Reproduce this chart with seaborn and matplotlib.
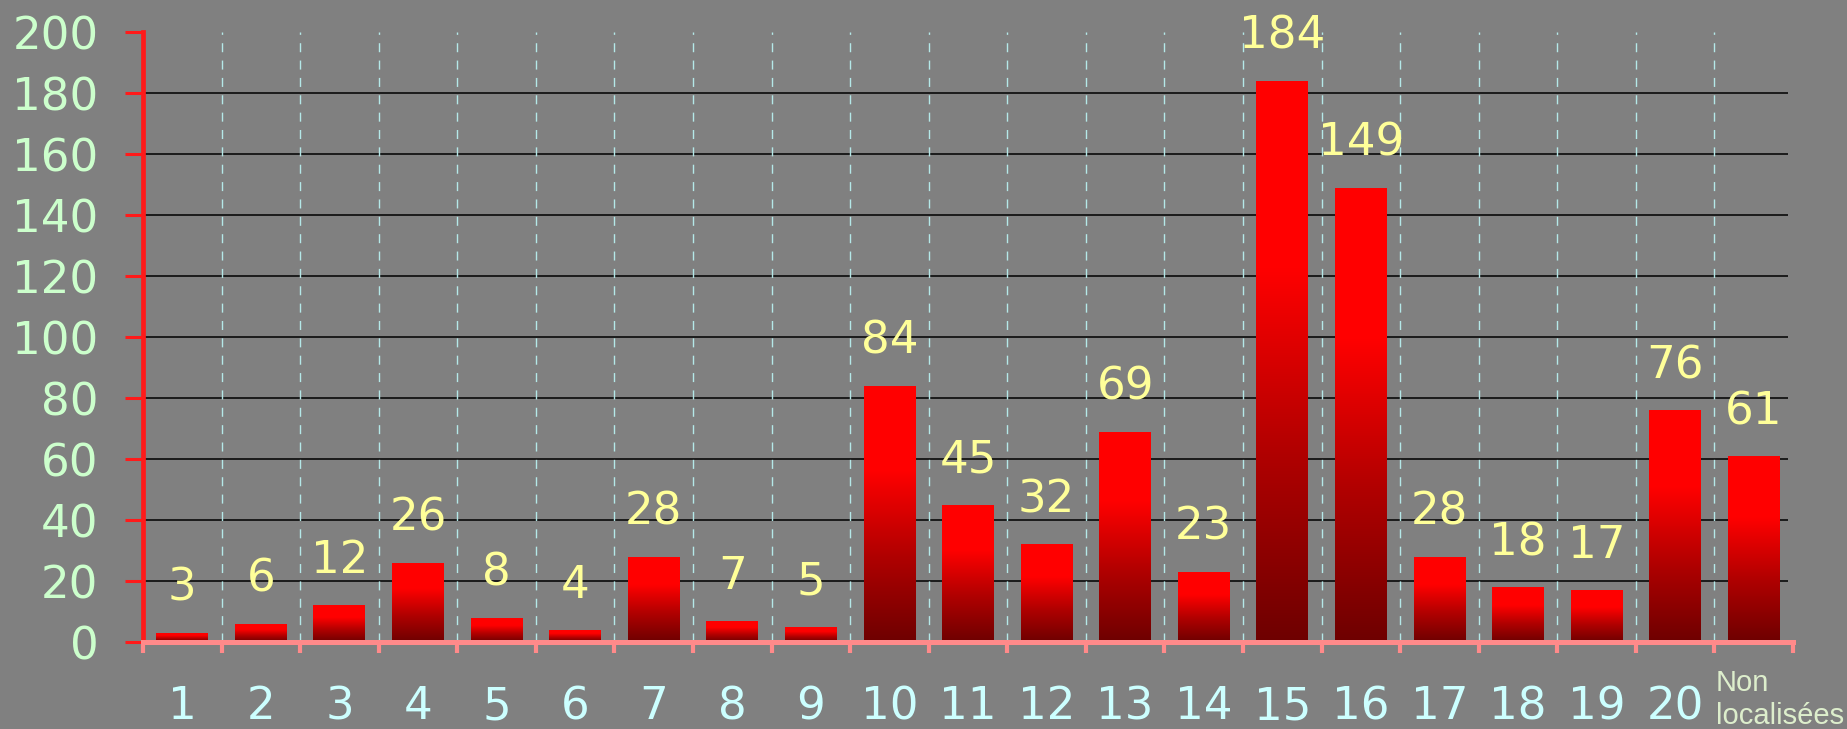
import numpy as np
import pandas as pd
import matplotlib
matplotlib.use("Agg")
import matplotlib.pyplot as plt
import seaborn as sns
from matplotlib.colors import LinearSegmentedColormap
import matplotlib.transforms as mtransforms

categories = [str(i) for i in range(1, 21)] + ["Non localisées"]
values = [3, 6, 12, 26, 8, 4, 28, 7, 5, 84, 45, 32, 69, 23, 184, 149, 28, 18, 17, 76, 61]
y_ticks = [0, 20, 40, 60, 80, 100, 120, 140, 160, 180, 200]

BG = "#808080"
sns.set_theme(rc={"axes.facecolor": BG, "figure.facecolor": BG, "axes.grid": False})
plt.rcParams["font.family"] = ["DejaVu Sans"]
NUMFONT = "DejaVu Sans"
NUMSIZE = 32.5

fig = plt.figure(figsize=(18.47, 7.29), dpi=100)
ax = fig.add_axes([0.0774, 0.1193, 0.9708 - 0.0774, 0.956 - 0.1193])

df = pd.DataFrame({"cat": categories, "val": values})
sns.barplot(data=df, x="cat", y="val", ax=ax, width=0.66, color="red",
            saturation=1, order=categories)

# gradient fill for each bar
cmap = LinearSegmentedColormap.from_list("redgrad", ["#6e0000", "#b00000", "#ff0000", "#ff0000"])
grad = np.linspace(0, 1, 256).reshape(-1, 1)
for p in ax.patches:
    x0, y0 = p.get_x(), p.get_y()
    w, h = p.get_width(), p.get_height()
    im = ax.imshow(grad, cmap=cmap, origin="lower", aspect="auto",
                   extent=[x0, x0 + w, y0, y0 + h], zorder=3, interpolation="bilinear")
    im.set_clip_path(p)
    p.set_facecolor("none")
    p.set_edgecolor("none")

ax.set_xlim(-0.5, len(categories) - 0.5)
ax.set_ylim(y_ticks[0], y_ticks[-1])

# horizontal gridlines (black)
ax.hlines(y_ticks[1:-1], -0.5, len(categories) - 0.57, colors="black", linewidth=1.1, zorder=1)
# dashed vertical separators
bounds = np.arange(0.5, len(categories) - 1, 1.0)
ax.vlines(bounds, y_ticks[0], y_ticks[-1], colors="#b4e8e8", linewidth=1.0,
          linestyles=(0, (6.5, 6)), zorder=1)

# value labels
for i, v in enumerate(values):
    ax.annotate(str(v), (i, v), xytext=(0, 23), textcoords="offset points",
                ha="center", va="baseline", fontsize=NUMSIZE, color="#ffff99",
                family=NUMFONT, zorder=5)

# spines
for s in ["top", "right"]:
    ax.spines[s].set_visible(False)
ax.spines["left"].set_color("#ff1a1a")
ax.spines["left"].set_linewidth(3.4)
ax.spines["bottom"].set_color("#ff8a8a")
ax.spines["bottom"].set_linewidth(3.6)
ax.spines["left"].set_zorder(6)
ax.spines["bottom"].set_zorder(6)

# y axis
ax.set_yticks(y_ticks)
ax.set_yticklabels([str(t) for t in y_ticks], family=NUMFONT)
ax.tick_params(axis="y", which="major", direction="out", length=13, width=2.2,
               color="#ff1a1a", labelsize=NUMSIZE, labelcolor="#ccffcc", pad=19, left=True)

# x axis
ax.set_xticks(range(len(categories)))
ax.set_xticklabels(categories[:-1] + [""], family=NUMFONT)
ax.set_xticks(np.arange(-0.5, len(categories), 1.0), minor=True)
ax.tick_params(axis="x", which="major", length=0, labelsize=NUMSIZE, labelcolor="#ccffff", pad=31)
ax.tick_params(axis="x", which="minor", direction="out", length=8, width=3,
               color="#ff8a8a", bottom=True)

trans = mtransforms.blended_transform_factory(ax.transData, ax.transAxes)
ax.text(len(categories) - 1.48, -0.094, "Non\nlocalisées", transform=trans,
        ha="left", va="center", fontsize=21, color="#ddeecc", linespacing=1.2,
        family=["Liberation Sans", "DejaVu Sans"])

ax.set_xlabel("")
ax.set_ylabel("")

fig.savefig("out.png", dpi=100, facecolor=BG)
